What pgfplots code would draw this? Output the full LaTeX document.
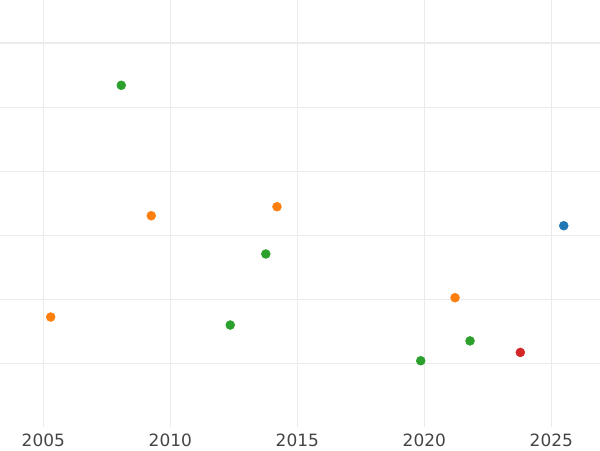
\documentclass[border=0pt]{standalone}
\usepackage{pgfplots}
\pgfplotsset{compat=1.18}
\usepackage{fontspec}
\setmainfont{DejaVu Sans}
\definecolor{tabblue}{HTML}{1F77B4}
\definecolor{taborange}{HTML}{FF7F0E}
\definecolor{tabgreen}{HTML}{2CA02C}
\definecolor{tabred}{HTML}{D62728}
\definecolor{gridc}{HTML}{EBEBEB}
\definecolor{textc}{HTML}{444444}
\begin{document}
\begin{tikzpicture}
\begin{axis}[
  scale only axis,
  width=432pt, height=307.66pt,
  xmin=2003.295, xmax=2026.917,
  ymin=0, ymax=6.677,
  xtick={2005,2010,2015,2020,2025},
  ytick={1,2,3,4,5,6},
  yticklabels={},
  xticklabel style={/pgf/number format/1000 sep={}, inner sep=0pt, yshift=-4.8pt, text=textc, font=\fontsize{12.2pt}{14pt}\selectfont},
  /pgf/number format/assume math mode=true,
  major tick length=0pt,
  axis line style={draw=none},
  grid=major,
  major grid style={draw=gridc, line width=0.72pt},
  clip=false,
]
\draw[gridc, line width=1.44pt] (axis cs:2003.295,6) -- (axis cs:2026.917,6);
\addplot[only marks, mark=*, mark size=3.2pt, color=tabgreen] coordinates {
 (2008.07,5.344) (2013.76,2.708) (2012.36,1.598) (2021.80,1.35) (2019.86,1.04)
};
\addplot[only marks, mark=*, mark size=3.2pt, color=taborange] coordinates {
 (2009.25,3.306) (2014.20,3.447) (2005.29,1.723) (2021.21,2.025)
};
\addplot[only marks, mark=*, mark size=3.2pt, color=tabblue] coordinates {
 (2025.49,3.15)
};
\addplot[only marks, mark=*, mark size=3.2pt, color=tabred] coordinates {
 (2023.78,1.17)
};
\end{axis}
\pgfresetboundingbox
\path (current axis.south west) ++(0,-16.56pt) rectangle (current axis.north east);
\end{tikzpicture}
\end{document}
